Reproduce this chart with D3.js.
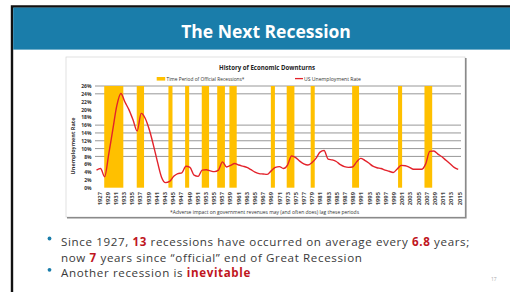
<!DOCTYPE html>
<html>
<head>
<meta charset="utf-8">
<script src="https://cdn.jsdelivr.net/npm/d3@7"></script>
<style>
  body { margin: 0; background: #fff; }
  svg { display: block; }
  text { font-family: "Open Sans", sans-serif; }
</style>
</head>
<body>
<svg id="slide" width="510" height="292"></svg>
<script>
var years = [1927, 1928, 1929, 1930, 1931, 1932, 1933, 1934, 1935, 1936, 1937, 1938, 1939, 1940, 1941,
  1942, 1943, 1944, 1945, 1946, 1947, 1948, 1949, 1950, 1951, 1952, 1953, 1954, 1955, 1956,
  1957, 1958, 1959, 1960, 1961, 1962, 1963, 1964, 1965, 1966, 1967, 1968, 1969, 1970, 1971,
  1972, 1973, 1974, 1975, 1976, 1977, 1978, 1979, 1980, 1981, 1982, 1983, 1984, 1985, 1986,
  1987, 1988, 1989, 1990, 1991, 1992, 1993, 1994, 1995, 1996, 1997, 1998, 1999, 2000, 2001,
  2002, 2003, 2004, 2005, 2006, 2007, 2008, 2009, 2010, 2011, 2012, 2013, 2014, 2015, 2016]
var unemployment = [4.5, 4.9, 2.8, 8.5, 14.8, 21.0, 24.1, 21.9, 19.9, 17.3, 14.5, 19.0, 17.7, 14.8, 10.9,
  6.6, 2.7, 1.3, 1.6, 2.9, 3.6, 3.8, 5.5, 5.2, 3.2, 2.9, 4.5, 4.6, 4.3, 4.1,
  4.5, 6.6, 5.3, 5.7, 6.2, 5.8, 5.5, 5.2, 4.6, 4.0, 3.6, 3.5, 3.4, 4.3, 5.2,
  5.4, 4.9, 5.8, 8.1, 7.7, 6.8, 6.1, 5.8, 6.4, 7.5, 9.1, 9.5, 7.3, 7.1, 6.7,
  5.9, 5.4, 5.2, 5.3, 6.6, 7.5, 7.0, 6.3, 5.5, 5.1, 4.9, 4.5, 4.2, 3.9, 4.8,
  5.7, 5.6, 5.2, 4.7, 4.7, 4.7, 6.1, 9.3, 9.4, 8.6, 7.9, 7.0, 6.1, 5.2, 4.7]

var recessionStart = [1928.9, 1936.9, 1944.7, 1948.8, 1952.9, 1956.7, 1959.7, 1969.9, 1973.8, 1979.7, 1989.9, 2001.2, 2007.7]
var recessionEnd   = [1933.6, 1938.7, 1945.7, 1949.8, 1954.7, 1958.6, 1961.5, 1970.9, 1975.7, 1980.7, 1991.6, 2002.2, 2009.6]

var yTicks = [0, 2, 4, 6, 8, 10, 12, 14, 16, 18, 20, 22, 24, 26]
var gridValues = [8, 10, 12, 14, 16, 24, 26]
var labelYears = [1927, 1929, 1931, 1933, 1935, 1937, 1939, 1941, 1943, 1945, 1947, 1949, 1951, 1953, 1955,
  1957, 1959, 1961, 1963, 1965, 1967, 1969, 1971, 1973, 1975, 1977, 1979, 1981, 1983, 1985,
  1987, 1989, 1991, 1993, 1995, 1997, 1999, 2001, 2003, 2005, 2007, 2009, 2011, 2013, 2015]

var svg = d3.select("#slide")
var blue = "#1a7daa"
var red = "#c0161e"

svg.append("rect").attr("width", 510).attr("height", 292).attr("fill", "#fff")

// slide frame + header
svg.append("path").attr("d", "M12,292V6.5H510").attr("fill", "none")
  .attr("stroke", "#111").attr("stroke-width", 2.4)
svg.append("rect").attr("x", 13.2).attr("y", 7.6).attr("width", 497).attr("height", 42)
  .attr("fill", blue)
svg.append("text").attr("x", 266).attr("y", 37.6).attr("text-anchor", "middle")
  .attr("fill", "#fff").attr("font-size", 17.5).attr("font-weight", 700)
  .text("The Next Recession")

// chart box
svg.append("rect").attr("x", 66).attr("y", 57).attr("width", 399).attr("height", 160)
  .attr("fill", "#fff").attr("stroke", "#d4d4d4").attr("stroke-width", 0.7)
svg.append("path").attr("d", "M465.8,58V217.8H67").attr("fill", "none")
  .attr("stroke", "#8a8a8a").attr("stroke-width", 1.6)

svg.append("text").attr("x", 267).attr("y", 70).attr("text-anchor", "middle")
  .attr("font-size", 7.2).attr("font-weight", 700).attr("fill", "#222")
  .attr("textLength", 96).attr("lengthAdjust", "spacingAndGlyphs")
  .text("History of Economic Downturns")

var x = d3.scaleLinear().domain([1927, 2016]).range([96.5, 458.2])
var xLab = d3.scaleLinear().domain([1927, 2015]).range([99, 459])
var y = d3.scaleLinear().domain([0, 26]).range([187.7, 86])

var plot = svg.append("g")

plot.selectAll(".grid").data(gridValues).enter().append("line")
  .attr("class", "grid")
  .attr("x1", 95).attr("x2", 461)
  .attr("y1", function(d) { return y(d) }).attr("y2", function(d) { return y(d) })
  .attr("stroke", "#8c8c8c").attr("stroke-width", 0.9)

plot.selectAll(".rec").data(recessionStart).enter().append("rect")
  .attr("class", "rec")
  .attr("x", function(d) { return x(d) })
  .attr("width", function(d, i) { return x(recessionEnd[i]) - x(d) })
  .attr("y", y(26)).attr("height", y(0) - y(26))
  .attr("fill", "#ffc000")

var line = d3.line()
  .x(function(d, i) { return x(years[i]) })
  .y(function(d) { return y(d) })
  .curve(d3.curveMonotoneX)
plot.append("path").datum(unemployment).attr("d", line)
  .attr("fill", "none").attr("stroke", "#e3222b").attr("stroke-width", 1.4)

var yAxis = plot.append("g").attr("transform", "translate(91.5,0)")
  .call(d3.axisLeft(y).tickValues(yTicks).tickSize(0).tickPadding(0)
    .tickFormat(function(d) { return d + "%" }))
yAxis.select(".domain").remove()
yAxis.selectAll("text").attr("font-size", 5).attr("font-weight", 700)
  .attr("fill", "#333").attr("font-family", "'Open Sans', sans-serif")

var xAxis = plot.append("g").attr("transform", "translate(0,192)")
  .call(d3.axisBottom(xLab).tickValues(labelYears).tickSize(0).tickFormat(d3.format("d")))
xAxis.select(".domain").remove()
xAxis.selectAll("text")
  .attr("transform", "rotate(-90)").attr("x", 0).attr("y", 0).attr("dy", "0.35em")
  .attr("text-anchor", "end").attr("font-size", 5.8).attr("font-weight", 700)
  .attr("fill", "#444").attr("font-family", "'Open Sans', sans-serif")

svg.append("text").attr("transform", "translate(74.5,146) rotate(-90)")
  .attr("text-anchor", "middle").attr("font-size", 5.5).attr("font-weight", 700).attr("fill", "#333")
  .text("Unemployment Rate")

// legend
svg.append("rect").attr("x", 156.7).attr("y", 77).attr("width", 8.5).attr("height", 3.6).attr("fill", "#ffc000")
svg.append("text").attr("x", 166.5).attr("y", 80.6).attr("font-size", 5).attr("fill", "#333")
  .attr("textLength", 78).attr("lengthAdjust", "spacingAndGlyphs")
  .text("Time Period of Official Recessions*")
svg.append("line").attr("x1", 295).attr("x2", 303).attr("y1", 78.6).attr("y2", 78.6)
  .attr("stroke", "#e3222b").attr("stroke-width", 1.3)
svg.append("text").attr("x", 304).attr("y", 80.6).attr("font-size", 5).attr("fill", "#333")
  .attr("textLength", 57).attr("lengthAdjust", "spacingAndGlyphs")
  .text("US Unemployment Rate")

svg.append("text").attr("x", 170).attr("y", 214).attr("font-size", 5).attr("fill", "#333")
  .attr("textLength", 189).attr("lengthAdjust", "spacingAndGlyphs")
  .text("*Adverse impact on government revenues may (and often does) lag these periods")

// bullets: small font (lines are only 15px apart), letter-spacing stretches to the reference width
var bullets = [
  {y: 246.2, w: 412, parts: [["Since 1927, ", 0], ["13", 1], [" recessions have occurred on average every ", 0], ["6.8", 1], [" years;", 0]]},
  {y: 261.8, w: 304, parts: [["now ", 0], ["7", 1], [" years since \u201cofficial\u201d end of Great Recession", 0]]},
  {y: 276.8, w: 187, parts: [["Another recession is ", 0], ["inevitable", 1]]}
]
svg.selectAll(".dot").data([238.5, 269.8]).enter().append("circle")
  .attr("cx", 49.5).attr("cy", function(d) { return d }).attr("r", 1.9).attr("fill", blue)

var spacing = []
bullets.forEach(function(b) {
  var t = svg.append("text").attr("x", 61).attr("y", b.y).attr("font-size", 11.6)
    .attr("fill", "#3a3a3a").attr("font-family", "Lato, sans-serif")
  var n = 0
  b.parts.forEach(function(p) {
    n += p[0].length
    t.append("tspan").text(p[0])
      .attr("fill", p[1] ? red : null).attr("font-weight", p[1] ? 700 : null)
  })
  spacing.push((b.w - t.node().getComputedTextLength()) / n)
  b.node = t
})
var ls = Math.max(0, d3.mean(spacing))
bullets.forEach(function(b) { b.node.attr("letter-spacing", ls) })

svg.append("text").attr("x", 491).attr("y", 281).attr("font-size", 5).attr("fill", "#aaa").text("17")
</script>
</body>
</html>
